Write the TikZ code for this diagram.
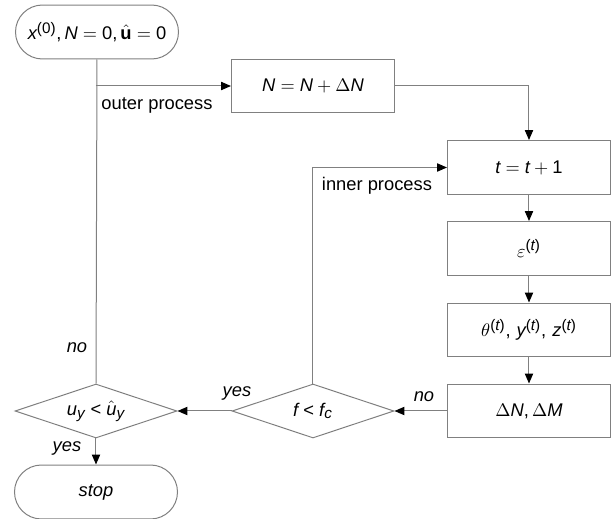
\documentclass[tikz,border=0pt]{standalone}
\usepackage{amsmath}
\usepackage{fontspec}
\setmainfont{Liberation Sans}
\usepackage[italic]{mathastext}
\usepackage{tikz}
\usetikzlibrary{
  arrows.meta,
  positioning,
  calc,
  shapes.geometric
}
\usepackage{xcolor}

\begin{document}
\begin{tikzpicture}[
			x=0.6pt, y=-0.6pt,
			box/.style={draw=gray, line width=0.6pt, minimum width=97.8pt,
				minimum height=32.4pt, inner sep=2pt, font=\fontsize{11}{13}\selectfont},
			term/.style={box, rounded corners=16.2pt},
			dec/.style={draw=gray, line width=0.6pt, diamond, aspect=3, inner sep=0pt,
				minimum width=97.2pt, minimum height=32.4pt, font=\fontsize{11}{13}\selectfont},
			lf/.style={font=\fontsize{11}{13}\selectfont, inner sep=1pt},
			ed/.style={draw=gray, line width=0.6pt},
			ar/.style={ed, -{Triangle[length=6pt, width=5pt, color=black]}}
			]
			\useasboundingbox (0,0) rectangle (615,519);
			% outer loop
			\node[term] (start) at (97,32) {$x^{\text{(0)}}, N = \text{0}, \hat{\mathbf{u}} = \text{0}$};
			\node[box]  (upd)   at (313,86) {$N = N + \Delta N$};
			% inner loop column
			\node[box] (tinc) at (529,167.5) {$t = t + \text{1}$};
			\node[box] (eps)  at (529,248.5) {$\varepsilon^{\text{(}t\text{)}}$};
			\node[box] (ang)  at (529,330)   {$\theta^{\text{(}t\text{)}},\, y^{\text{(}t\text{)}},\, z^{\text{(}t\text{)}}$};
			\node[box] (dlt)  at (529,411)   {$\Delta N, \Delta M$};
			% checks
			\node[dec]  (fchk) at (313,411) {$f < f_c$};
			\node[dec]  (uchk) at (96,411)  {$u_y < \hat{u}_y$};
			\node[term] (stop) at (96,492)  {\textit{stop}};
			\coordinate (br) at (96,86);
			\draw[ed] (start.south) -- (uchk.north);
			\draw[ar] (br) -- (upd.west);
			\draw[ar] (upd.east) -| (tinc.north);
			\draw[ar] (tinc) -- (eps);
			\draw[ar] (eps) -- (ang);
			\draw[ar] (ang) -- (dlt);
			\draw[ar] (dlt) -- (fchk.east);
			\draw[ar] (fchk.west) -- (uchk.east);
			\draw[ar] (fchk.north) |- (tinc.west);
			\draw[ar] (uchk.south) -- (stop.north);
			% labels
			\node[lf] (outer) at (157,105) {outer process};
			\node[lf] (inner) at (377,186) {inner process};
			\node[lf] (no1) at (424,397) {\textit{no}};
			\node[lf] (yes1) at (237,393) {\textit{yes}};
			\node[lf] (no2) at (77,348) {\textit{no}};
			\node[lf] (yes2) at (67,448) {\textit{yes}};
	\end{tikzpicture}
\end{document}
